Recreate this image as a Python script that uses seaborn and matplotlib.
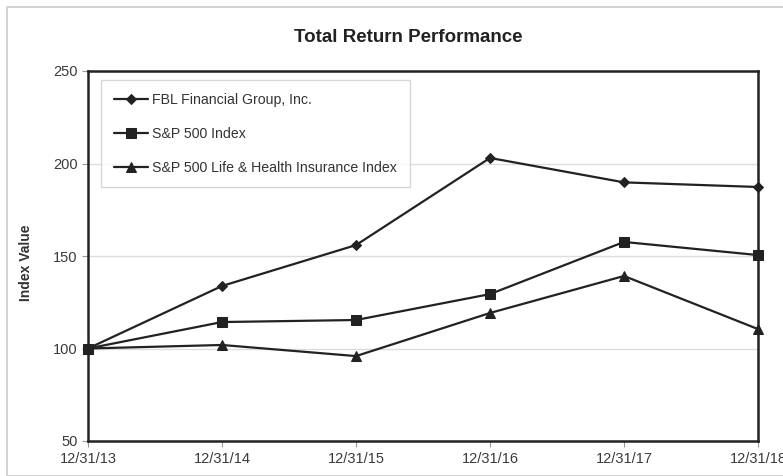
import matplotlib
matplotlib.use("Agg")
import matplotlib.pyplot as plt
import seaborn as sns
import pandas as pd
from matplotlib.patches import Rectangle

dates = ["12/31/13", "12/31/14", "12/31/15", "12/31/16", "12/31/17", "12/31/18"]
fbl = [100, 133.8, 155.9, 203.0, 189.8, 187.3]
sp500 = [100, 114.3, 115.4, 129.4, 157.6, 150.5]
lh = [100, 101.9, 95.9, 119.2, 139.2, 110.5]
names = ["FBL Financial Group, Inc.", "S&P 500 Index", "S&P 500 Life & Health Insurance Index"]
yticks = [50, 100, 150, 200, 250]

sns.set_theme(style="white")
plt.rcParams['font.family'] = ['Liberation Sans', 'DejaVu Sans']

rows = []
for nm, vals in zip(names, [fbl, sp500, lh]):
    for i, v in enumerate(vals):
        rows.append({"x": i, "value": v, "series": nm})
df = pd.DataFrame(rows)

fig = plt.figure(figsize=(7.83, 4.76), dpi=100)
ax = fig.add_axes([88/783, 1 - 441/476, (758-88)/783, (441-71)/476])

markers = {names[0]: "D", names[1]: "s", names[2]: "^"}
sizes = {names[0]: 5, names[1]: 7.5, names[2]: 7.5}
for nm in names:
    sub = df[df.series == nm]
    sns.lineplot(data=sub, x="x", y="value", ax=ax, color="#222222", lw=1.6,
                 marker=markers[nm], markersize=sizes[nm], markeredgecolor="#222222",
                 label=nm, clip_on=False, zorder=3)

ax.set_xlim(0, 5)
ax.set_ylim(50, 250)
ax.set_yticks(yticks)
ax.set_yticklabels([str(t) for t in yticks], fontsize=10.5, color="#3a3a3a")
ax.set_xticks(range(len(dates)))
ax.set_xticklabels(dates, fontsize=10.5, color="#3a3a3a")
ax.tick_params(axis="both", direction="out", length=4, width=0.8, color="#999999", bottom=True, left=True)
ax.tick_params(axis="x", pad=4)
ax.grid(axis="y", color="#dddddd", lw=1)
for s in ax.spines.values():
    s.set_color("#222222")
    s.set_linewidth(1.8)
ax.set_xlabel("")
ax.set_ylabel("")
fig.text(26/783, 1 - 263/476, "Index Value", rotation=90, ha="center", va="center",
         fontsize=10, fontweight="bold", color="#333333")
fig.text(408/783, 1 - 37/476, "Total Return Performance", ha="center", va="center",
         fontsize=13.5, fontweight="bold", color="#222222")

leg = ax.legend(loc="upper left", bbox_to_anchor=(0.02, 0.975), frameon=True, fancybox=False,
                fontsize=10.2, labelspacing=1.4, handlelength=2.4, handletextpad=0.3,
                borderpad=0.9, borderaxespad=0.0)
leg.get_frame().set_edgecolor("#cccccc")
leg.get_frame().set_linewidth(1.0)
for t in leg.get_texts():
    t.set_color("#333333")

fig.patches.append(Rectangle((7/783, 0), 1, 1 - 7/476, transform=fig.transFigure,
                             fill=False, edgecolor="#cccccc", lw=1.2, zorder=0))

fig.savefig("out.png", dpi=100)
